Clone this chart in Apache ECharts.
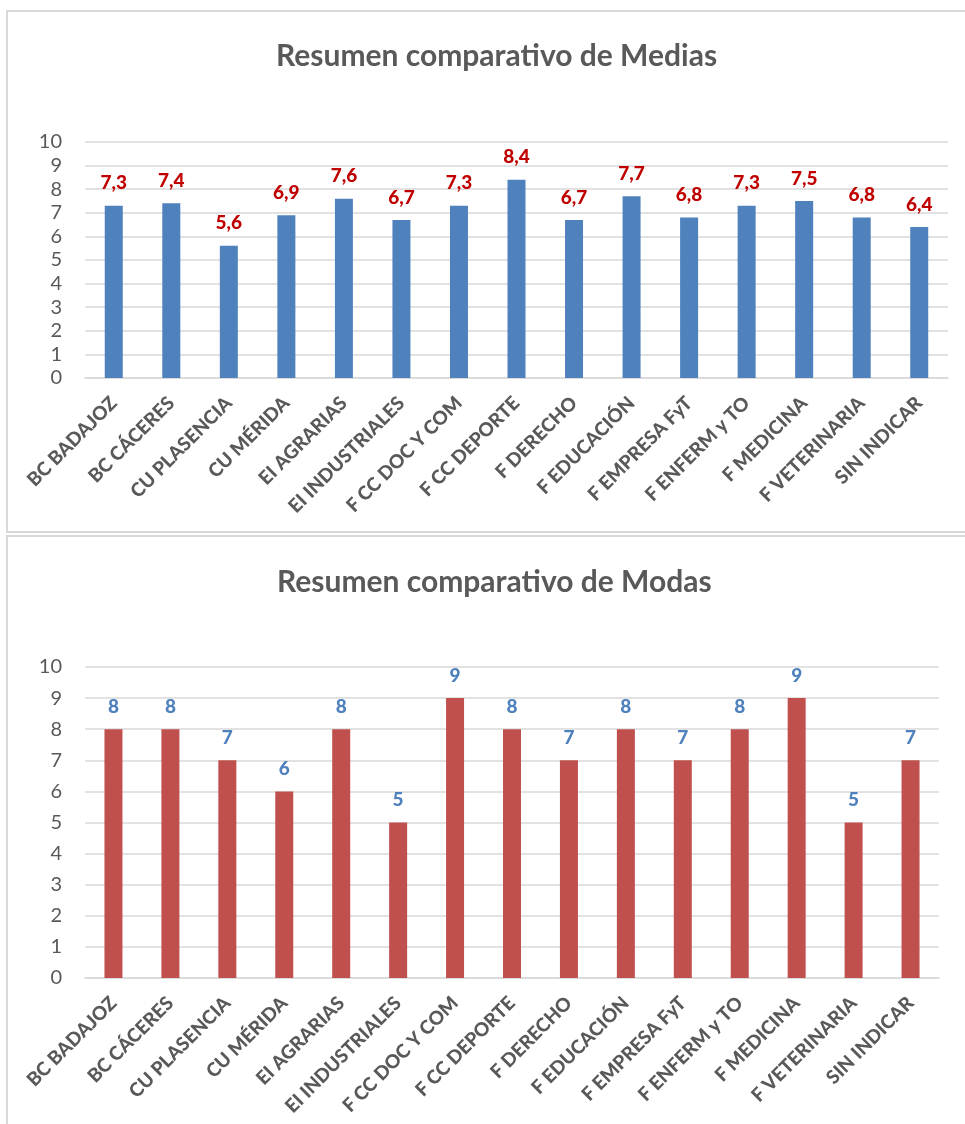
<!DOCTYPE html>
<html>
<head>
<meta charset="utf-8">
<script src="https://cdn.jsdelivr.net/npm/echarts@6/dist/echarts.min.js"></script>
<style>
html,body{margin:0;padding:0;background:#fff;}
#c{width:965px;height:1124px;}
</style>
</head>
<body>
<div id="c"></div>
<script>
const categories = ["BC BADAJOZ","BC CÁCERES","CU PLASENCIA","CU MÉRIDA","EI AGRARIAS","EI INDUSTRIALES","F CC DOC Y COM","F CC DEPORTE","F DERECHO","F EDUCACIÓN","F EMPRESA FyT","F ENFERM y TO","F MEDICINA","F VETERINARIA","SIN INDICAR"];
const medias = [7.3,7.4,5.6,6.9,7.6,6.7,7.3,8.4,6.7,7.7,6.8,7.3,7.5,6.8,6.4];
const modas = [8,8,7,6,8,5,9,8,7,8,7,8,9,5,7];
const yTicks = [0,1,2,3,4,5,6,7,8,9,10];
const titles = ["Resumen comparativo de Medias","Resumen comparativo de Modas"];

const FONT = 'Lato';
const grey = '#595959';
const gridCol = '#D9D9D9';

function xAxis(gi){
  return {
    type:'category', gridIndex:gi, data:categories,
    axisLine:{lineStyle:{color:gridCol,width:1.5}},
    axisTick:{show:false},
    axisLabel:{interval:0, rotate:45, margin:22, color:grey, fontFamily:FONT, fontWeight:900, fontSize:19}
  };
}
function yAxis(gi){
  return {
    type:'value', gridIndex:gi, min:yTicks[0], max:yTicks[yTicks.length-1], interval:1,
    axisLine:{show:false}, axisTick:{show:false},
    splitLine:{lineStyle:{color:gridCol,width:1.5}},
    axisLabel:{margin:23, color:grey, fontFamily:FONT, fontSize:20}
  };
}

const chart = echarts.init(document.getElementById('c'), null, {renderer:'canvas'});
chart.setOption({
  animation:false,
  backgroundColor:'#fff',
  graphic:[
    {type:'rect', shape:{x:7,y:11,width:970,height:521}, style:{fill:'none',stroke:gridCol,lineWidth:2}, z:-1},
    {type:'rect', shape:{x:7,y:536,width:970,height:600}, style:{fill:'none',stroke:gridCol,lineWidth:2}, z:-1}
  ],
  title:[
    {text:titles[0], left:271, top:36, textStyle:{fontFamily:FONT,fontWeight:'bold',fontSize:30,color:grey}},
    {text:titles[1], left:272, top:562, textStyle:{fontFamily:FONT,fontWeight:'bold',fontSize:30,color:grey}}
  ],
  grid:[
    {left:85, right:17, top:142, height:236},
    {left:85, right:26, top:667, height:311}
  ],
  xAxis:[xAxis(0), xAxis(1)],
  yAxis:[yAxis(0), yAxis(1)],
  series:[
    {type:'bar', xAxisIndex:0, yAxisIndex:0, data:medias, barWidth:18,
     itemStyle:{color:'#4F81BD'},
     label:{show:true, position:'top', distance:13, color:'#C00000', fontFamily:FONT, fontWeight:900, fontSize:19,
       formatter:p=>p.value.toFixed(1).replace('.',',')}},
    {type:'bar', xAxisIndex:1, yAxisIndex:1, data:modas, barWidth:18,
     itemStyle:{color:'#C0504D'},
     label:{show:true, position:'top', distance:13, color:'#4F81BD', fontFamily:FONT, fontWeight:900, fontSize:19,
       formatter:p=>String(p.value)}}
  ]
});
</script>
</body>
</html>
